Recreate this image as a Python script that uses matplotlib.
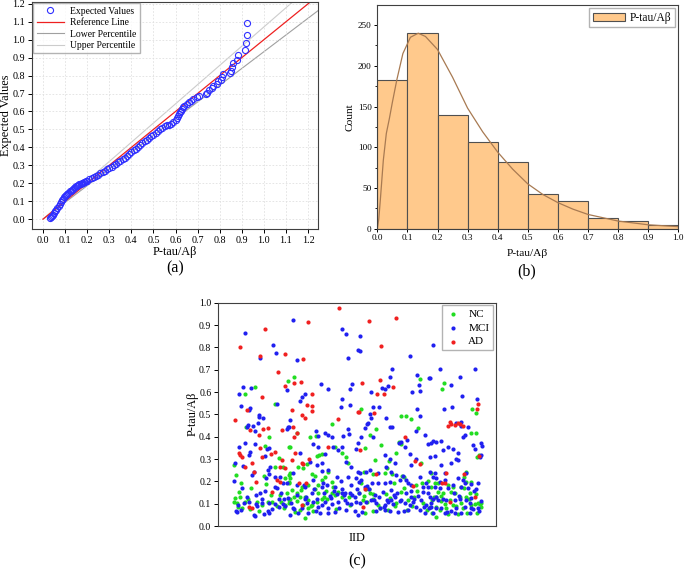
import matplotlib
matplotlib.use("Agg")
import matplotlib.pyplot as plt
import numpy as np

plt.rcParams['font.family'] = ['Liberation Serif', 'DejaVu Serif']
plt.rcParams['axes.linewidth'] = 0.8
plt.rcParams['axes.edgecolor'] = '#404040'

# (a) Q-Q plot: observed P-tau/Abeta vs expected values
qq_obs = [0.030, 0.035, 0.040, 0.045, 0.050, 0.055, 0.060, 0.065, 0.070, 0.075,
          0.080, 0.085, 0.090, 0.095, 0.100, 0.105, 0.110, 0.115, 0.120, 0.125,
          0.130, 0.135, 0.140, 0.145, 0.150, 0.155, 0.160, 0.165, 0.170, 0.175,
          0.180, 0.185, 0.190, 0.195, 0.200, 0.210, 0.220, 0.230, 0.240, 0.250,
          0.260, 0.270, 0.280, 0.290, 0.300, 0.310, 0.320, 0.330, 0.340, 0.350,
          0.360, 0.370, 0.380, 0.390, 0.400, 0.410, 0.420, 0.430, 0.440, 0.450,
          0.460, 0.470, 0.480, 0.490, 0.500, 0.510, 0.520, 0.530, 0.540, 0.550,
          0.560, 0.570, 0.580, 0.590, 0.600, 0.605, 0.610, 0.615, 0.620, 0.625,
          0.630, 0.635, 0.640, 0.650, 0.660, 0.670, 0.680, 0.696, 0.706,
          0.738, 0.744, 0.753, 0.764, 0.771, 0.786, 0.794, 0.804, 0.810, 0.813,
          0.846, 0.849, 0.857, 0.861, 0.880, 0.883, 0.914, 0.919, 0.922, 0.925]
qq_exp = [0.005, 0.010, 0.016, 0.024, 0.033, 0.043, 0.053, 0.064, 0.075, 0.085,
          0.095, 0.104, 0.113, 0.121, 0.128, 0.135, 0.142, 0.148, 0.154, 0.159,
          0.164, 0.169, 0.174, 0.178, 0.182, 0.186, 0.190, 0.193, 0.196, 0.200,
          0.203, 0.206, 0.209, 0.212, 0.215, 0.221, 0.228, 0.234, 0.241, 0.248,
          0.255, 0.262, 0.269, 0.277, 0.285, 0.292, 0.300, 0.308, 0.316, 0.325,
          0.334, 0.343, 0.352, 0.361, 0.373, 0.383, 0.393, 0.403, 0.413, 0.423,
          0.433, 0.443, 0.453, 0.462, 0.471, 0.480, 0.490, 0.500, 0.510, 0.518,
          0.522, 0.524, 0.530, 0.540, 0.555, 0.565, 0.575, 0.585, 0.595, 0.605,
          0.615, 0.623, 0.630, 0.640, 0.650, 0.660, 0.668, 0.679, 0.688,
          0.698, 0.705, 0.720, 0.729, 0.742, 0.753, 0.767, 0.776, 0.794, 0.810,
          0.817, 0.828, 0.850, 0.869, 0.887, 0.915, 0.943, 0.980, 1.027, 1.092]
ref_x = [0.0, 1.25]
upper_slope = 1.071
lower_slope = 0.933

# (b) histogram of P-tau/Abeta and fitted curve
bin_edges = [0.0, 0.1, 0.2, 0.3, 0.4, 0.5, 0.6, 0.7, 0.8, 0.9, 1.0]
counts = [183, 240, 140, 107, 82, 43, 34, 13, 10, 5]
fit_x = [0.0, 0.005, 0.01, 0.02, 0.03, 0.04, 0.05, 0.065, 0.085, 0.11, 0.136,
         0.16, 0.2, 0.25, 0.3, 0.35, 0.4, 0.45, 0.5, 0.55, 0.6, 0.65, 0.7,
         0.8, 0.9, 1.0]
fit_y = [0, 12, 35, 84, 117, 135, 155, 183, 215, 235, 240, 236, 220, 186,
         148, 119, 94, 73, 55, 42, 32, 24, 17.5, 9.4, 4.8, 2.5]

# (c) scatter by group
nc_x = [108, 207, 78, 168, 82, 140, 152, 210, 45, 53, 68, 135, 168, 182, 192, 212, 200, 210,
        45, 48, 65, 55, 70, 80, 95, 115, 130, 148, 160, 175, 186, 200, 210, 215, 205,
        226, 339, 302, 291, 274, 309, 294, 349, 369, 382, 389, 214, 234, 329, 214, 239, 254,
        264, 279, 289, 319, 339, 212, 219, 234, 249, 269, 289, 299, 309, 322, 339, 359, 369,
        214, 227, 244, 259, 269, 279, 294, 309, 324, 349, 212, 229, 244, 254, 269, 284, 259,
        604, 429, 547, 564, 579, 600, 472, 456, 439, 489, 534, 549, 541, 471, 511, 551, 557,
        609, 437, 464, 499, 507, 522, 527, 422, 429, 444, 454, 464, 549, 594, 612, 629, 434,
        447, 464, 514, 569, 581, 614, 441, 464, 479, 509, 529, 567,
        677, 671, 762, 774, 759, 774, 777, 781, 744, 737, 639, 649, 659, 689, 639, 659, 674,
        704, 729, 744, 759, 642, 654, 669, 679, 694, 709, 724, 744, 754, 769, 779, 784, 789,
        634, 654, 664, 684, 704, 729, 734, 759, 641, 654, 689, 719, 747, 777, 789,
        58, 88, 120, 157, 196, 236, 276, 316, 352, 396, 436, 486, 532, 588, 626, 668, 712, 752,
        62, 98, 142, 183, 248, 298, 343, 392, 452, 502, 557, 597, 648, 698, 738, 772]
nc_y = [0.621, 0.651, 0.591, 0.545, 0.445, 0.358, 0.400, 0.355, 0.273, 0.228, 0.194, 0.225,
        0.266, 0.306, 0.266, 0.228, 0.213, 0.198, 0.109, 0.125, 0.131, 0.101, 0.079, 0.109,
        0.075, 0.109, 0.094, 0.107, 0.109, 0.090, 0.109, 0.094, 0.116, 0.213, 0.146,
        0.669, 0.455, 0.318, 0.403, 0.400, 0.321, 0.313, 0.355, 0.325, 0.310, 0.284, 0.355,
        0.415, 0.243, 0.236, 0.266, 0.260, 0.278, 0.233, 0.224, 0.221, 0.198, 0.194, 0.161,
        0.146, 0.173, 0.182, 0.167, 0.182, 0.206, 0.158, 0.146, 0.152, 0.131, 0.119, 0.131,
        0.131, 0.131, 0.116, 0.094, 0.109, 0.119, 0.119, 0.137, 0.101, 0.064, 0.072, 0.094,
        0.079, 0.069, 0.034,
        0.657, 0.524, 0.493, 0.493, 0.478, 0.440, 0.433, 0.407, 0.348, 0.363, 0.325, 0.367,
        0.374, 0.296, 0.291, 0.224, 0.218, 0.281, 0.243, 0.234, 0.236, 0.258, 0.233, 0.194,
        0.146, 0.192, 0.164, 0.146, 0.143, 0.151, 0.183, 0.194, 0.200, 0.116, 0.109, 0.119,
        0.124, 0.116, 0.090, 0.101, 0.057, 0.069, 0.094, 0.072, 0.090, 0.072,
        0.640, 0.612, 0.522, 0.504, 0.415, 0.418, 0.310, 0.318, 0.243, 0.221, 0.236, 0.194,
        0.194, 0.184, 0.176, 0.152, 0.149, 0.176, 0.176, 0.198, 0.198, 0.116, 0.131, 0.134,
        0.098, 0.116, 0.146, 0.131, 0.131, 0.146, 0.098, 0.101, 0.098, 0.104, 0.087, 0.087,
        0.072, 0.079, 0.094, 0.101, 0.079, 0.094, 0.057, 0.042, 0.054, 0.052, 0.057, 0.057,
        0.087,
        0.085, 0.122, 0.068, 0.138, 0.082, 0.112, 0.090, 0.128, 0.078, 0.093, 0.135, 0.082,
        0.104, 0.128, 0.071, 0.112, 0.088, 0.121,
        0.152, 0.171, 0.188, 0.139, 0.162, 0.148, 0.176, 0.128, 0.165, 0.142, 0.172, 0.158,
        0.131, 0.152, 0.168, 0.142]

mci_x = [80, 163, 123, 172, 73, 62, 96, 205, 68, 93, 90, 120, 122, 133, 175, 208, 205, 88,
         86, 103, 108, 118, 60, 80, 108, 145, 152, 95, 90, 140, 155, 147, 150, 168, 105, 100,
         73, 50, 143, 185, 192, 204, 170, 175, 188, 123, 112, 130, 58, 75, 90, 112, 130, 150,
         170, 192, 208, 54, 67, 105, 110, 135, 150, 160, 180, 200, 213, 45,
         222, 369, 384, 418, 389, 236, 307, 329, 396, 401, 259, 249, 244, 371, 366, 396, 214,
         212, 389, 392, 374, 339, 319, 292, 299, 329, 282, 299, 419, 414, 244, 274, 319, 344,
         372, 359, 384, 309, 296, 309, 329, 354, 367, 389, 399, 419, 223, 234, 259, 284, 287,
         309, 324, 349, 369, 399, 414, 421, 234, 259, 279, 296, 317, 333, 345, 354, 371, 381,
         394, 409, 417, 217, 224, 251, 264, 284, 297, 309, 319, 329, 341, 359, 379, 387, 399,
         414, 304, 329, 349, 384, 409, 419, 269, 237,
         426, 424, 574, 522, 514, 597, 632, 459, 491, 499, 509, 581, 602, 604, 464, 481, 454,
         459, 449, 597, 605, 447, 504, 514, 521, 441, 429, 464, 594, 619, 629, 567, 541, 549,
         499, 559, 531, 574, 577, 594, 514, 504, 456, 479, 444, 424, 519, 534, 546, 554, 564,
         429, 439, 462, 479, 499, 514, 569, 579, 604, 614, 624, 422, 451, 469, 481, 494, 507,
         519, 531, 537, 549, 564, 579, 599, 614, 629, 424, 444, 459, 474, 484, 499, 509, 524,
         544, 559, 574, 584, 594, 609, 624, 474, 499, 514, 539, 569, 604, 619, 631,
         644, 664, 769, 634, 699, 724, 732, 777, 677, 701, 714, 727, 729, 739, 734, 749, 644,
         654, 639, 667, 689, 704, 719, 764, 787, 792, 769, 787, 674, 649, 634, 714, 719, 699,
         669, 649, 679, 744, 784, 634, 644, 654, 664, 679, 719, 734, 739, 759, 779, 629, 649,
         664, 689, 704, 729, 749, 772, 634, 644, 659, 674, 684, 709, 724, 744, 759, 639, 654,
         669, 699, 714, 739, 754, 764, 779, 789, 644, 679, 709, 729, 754,
         52, 84, 116, 148, 182, 226, 262, 292, 336, 362, 402, 432, 468, 496, 526, 556, 586,
         616, 652, 686, 722, 758, 782, 71, 138, 197, 256, 312, 377, 447, 517, 577, 637, 707,
         767]
mci_y = [0.863, 0.810, 0.751, 0.773, 0.621, 0.591, 0.616, 0.607, 0.537, 0.528, 0.519, 0.497,
         0.490, 0.482, 0.546, 0.445, 0.433, 0.452, 0.442, 0.448, 0.427, 0.460, 0.355, 0.373,
         0.367, 0.343, 0.348, 0.333, 0.318, 0.315, 0.264, 0.249, 0.234, 0.221, 0.243, 0.228,
         0.269, 0.281, 0.213, 0.221, 0.194, 0.194, 0.176, 0.169, 0.149, 0.149, 0.140, 0.122,
         0.094, 0.101, 0.109, 0.098, 0.104, 0.101, 0.098, 0.097, 0.124, 0.061, 0.072, 0.049,
         0.045, 0.054, 0.057, 0.076, 0.087, 0.090, 0.049, 0.200,
         0.922, 0.884, 0.860, 0.788, 0.754, 0.743, 0.634, 0.612, 0.612, 0.634, 0.591, 0.579,
         0.561, 0.569, 0.534, 0.540, 0.475, 0.445, 0.433, 0.410, 0.403, 0.400, 0.415, 0.427,
         0.403, 0.407, 0.367, 0.355, 0.373, 0.346, 0.325, 0.285, 0.321, 0.355, 0.354, 0.340,
         0.288, 0.284, 0.273, 0.248, 0.251, 0.221, 0.200, 0.221, 0.266, 0.242, 0.236, 0.182,
         0.173, 0.206, 0.167, 0.173, 0.182, 0.176, 0.166, 0.183, 0.213, 0.198, 0.137, 0.119,
         0.146, 0.119, 0.149, 0.134, 0.158, 0.142, 0.146, 0.146, 0.149, 0.131, 0.164, 0.101,
         0.079, 0.079, 0.101, 0.109, 0.087, 0.094, 0.109, 0.079, 0.098, 0.109, 0.116, 0.101,
         0.098, 0.109, 0.057, 0.057, 0.064, 0.072, 0.069, 0.049, 0.060, 0.057,
         0.851, 0.784, 0.761, 0.704, 0.669, 0.678, 0.661, 0.599, 0.619, 0.613, 0.629, 0.601,
         0.630, 0.606, 0.534, 0.531, 0.501, 0.482, 0.462, 0.522, 0.493, 0.457, 0.484, 0.445,
         0.445, 0.437, 0.400, 0.397, 0.425, 0.407, 0.366, 0.385, 0.370, 0.378, 0.319, 0.354,
         0.284, 0.322, 0.272, 0.300, 0.300, 0.266, 0.251, 0.236, 0.243, 0.236, 0.243, 0.228,
         0.206, 0.224, 0.206, 0.206, 0.176, 0.191, 0.194, 0.194, 0.198, 0.191, 0.183, 0.221,
         0.176, 0.191, 0.146, 0.164, 0.139, 0.131, 0.154, 0.116, 0.116, 0.128, 0.149, 0.116,
         0.146, 0.131, 0.134, 0.154, 0.146, 0.101, 0.109, 0.116, 0.101, 0.079, 0.094, 0.109,
         0.098, 0.113, 0.101, 0.094, 0.109, 0.087, 0.116, 0.094, 0.069, 0.072, 0.069, 0.064,
         0.072, 0.072, 0.057, 0.079,
         0.810, 0.703, 0.701, 0.661, 0.631, 0.669, 0.584, 0.570, 0.522, 0.531, 0.463, 0.467,
         0.449, 0.407, 0.400, 0.445, 0.379, 0.378, 0.370, 0.381, 0.355, 0.343, 0.325, 0.361,
         0.370, 0.358, 0.343, 0.319, 0.340, 0.313, 0.310, 0.300, 0.296, 0.281, 0.273, 0.239,
         0.239, 0.236, 0.310, 0.243, 0.221, 0.213, 0.198, 0.206, 0.213, 0.206, 0.191, 0.188,
         0.191, 0.176, 0.176, 0.169, 0.169, 0.183, 0.176, 0.169, 0.164, 0.131, 0.119, 0.116,
         0.119, 0.116, 0.116, 0.119, 0.116, 0.124, 0.087, 0.079, 0.079, 0.069, 0.079, 0.087,
         0.101, 0.075, 0.079, 0.113, 0.057, 0.057, 0.057, 0.060, 0.057,
         0.068, 0.132, 0.088, 0.066, 0.121, 0.078, 0.131, 0.068, 0.125, 0.082, 0.138, 0.064,
         0.115, 0.086, 0.141, 0.068, 0.122, 0.083, 0.128, 0.064, 0.136, 0.081, 0.068, 0.168,
         0.158, 0.122, 0.185, 0.191, 0.138, 0.178, 0.162, 0.158, 0.105, 0.146, 0.155]

ad_x = [138, 65, 125, 200, 177, 130, 200, 50, 85, 148, 132, 120, 95, 190, 60, 70, 65, 78,
        100, 105, 125, 158, 170, 190, 130, 112, 183, 175, 185, 200, 160, 90, 100,
        362, 267, 254, 226, 246, 279, 264, 281, 281, 219, 259, 249, 223, 225, 234, 329, 359,
        419, 229, 221, 249, 254, 272, 242, 262, 249,
        532, 452, 489, 431, 486, 477, 497, 524, 466, 422, 559, 424, 591, 604, 474, 584, 441,
        434,
        779, 777, 689, 694, 697, 709, 724, 734, 719, 782, 684, 679, 671, 696, 769, 737]
ad_y = [0.884, 0.800, 0.763, 0.769, 0.688, 0.579, 0.628, 0.475, 0.520, 0.437, 0.433, 0.407,
        0.430, 0.430, 0.325, 0.310, 0.318, 0.266, 0.281, 0.243, 0.348, 0.322, 0.333, 0.296,
        0.310, 0.196, 0.199, 0.206, 0.266, 0.258, 0.154, 0.087, 0.080,
        0.976, 0.913, 0.749, 0.642, 0.646, 0.591, 0.540, 0.537, 0.516, 0.519, 0.482, 0.497,
        0.445, 0.400, 0.415, 0.352, 0.480, 0.510, 0.325, 0.296, 0.284, 0.278, 0.300, 0.194,
        0.194, 0.094,
        0.930, 0.919, 0.806, 0.639, 0.654, 0.591, 0.591, 0.621, 0.504, 0.509, 0.397, 0.340,
        0.290, 0.278, 0.233, 0.179, 0.167, 0.087,
        0.546, 0.522, 0.448, 0.467, 0.457, 0.452, 0.457, 0.448, 0.460, 0.315, 0.239, 0.191,
        0.191, 0.109, 0.131, 0.233]

W, H = 685, 571
fig = plt.figure(figsize=(W / 100, H / 100), dpi=100)


def box(l, t, r, b):
    return [l / W, 1 - b / H, (r - l) / W, (b - t) / H]


lab_fs = 8.8

# ---------- (a)
ax1 = fig.add_axes(box(32, 2, 318, 229))
ax1.plot(qq_obs, qq_exp, 'o', mfc='none', mec='#3030ff', ms=4.4, mew=0.8,
         label='Expected Values', zorder=3)
rx = np.array(ref_x)
ax1.plot(rx, rx, color='#ee2020', lw=0.9, label='Reference Line', zorder=2)
ax1.plot(rx, rx * lower_slope, color='#a0a0a0', lw=0.8, label='Lower Percentile', zorder=1)
ax1.plot(rx, rx * upper_slope, color='#cccccc', lw=0.8, label='Upper Percentile', zorder=1)
ax1.set_xlim(-0.05, 1.245)
ax1.set_ylim(-0.055, 1.21)
ticks_a = np.arange(0, 1.21, 0.1)
ax1.set_xticks(ticks_a)
ax1.set_yticks(ticks_a)
ax1.set_xticklabels([f'{v:.1f}' for v in ticks_a])
ax1.set_yticklabels([f'{v:.1f}' for v in ticks_a])
ax1.grid(True, color='#e0e0e0', lw=0.6, ls=(0, (2, 2)))
ax1.tick_params(labelsize=7.3, length=3, width=0.7, direction='out', pad=2)
ax1.legend(loc='upper left', fontsize=6.9, frameon=True, fancybox=False,
           edgecolor='#a0a0a0', borderaxespad=0.15, handlelength=2.8,
           labelspacing=0.25, borderpad=0.35, handletextpad=0.7)

# ---------- (b)
ax2 = fig.add_axes(box(377.3, 4.7, 678.3, 228.7))
ax2.bar(bin_edges[:-1], counts, width=np.diff(bin_edges), align='edge',
        color='#ffc98c', edgecolor='#505050', lw=0.8, label='P-tau/Aβ')
ax2.plot(fit_x, fit_y, color='#a87a52', lw=0.9)
ax2.set_xlim(0, 1.0)
ax2.set_ylim(0, 275)
ticks_b = np.arange(0, 1.01, 0.1)
ax2.set_xticks(ticks_b)
ax2.set_xticklabels([f'{v:.1f}' for v in ticks_b])
ax2.set_yticks([0, 50, 100, 150, 200, 250])
ax2.set_yticks(np.arange(25, 275, 50), minor=True)
ax2.tick_params(labelsize=6.6, length=2.5, width=0.7, direction='out', pad=1.5)
ax2.tick_params(which='minor', length=1.5, width=0.6)
ax2.legend(loc='upper right', fontsize=8.3, frameon=True, fancybox=False,
           edgecolor='#a0a0a0', borderaxespad=0.3, handlelength=2.8,
           borderpad=0.3, handletextpad=0.4)

# ---------- (c)
ax3 = fig.add_axes(box(218.3, 302.7, 496, 526))
ax3.scatter(nc_x, nc_y, s=9, color='#22dd22', lw=0, label='NC')
ax3.scatter(mci_x, mci_y, s=9, color='#2020f0', lw=0, label='MCI')
ax3.scatter(ad_x, ad_y, s=9, color='#f02020', lw=0, label='AD')
ax3.set_xlim(-1, 833)
ax3.set_ylim(0, 1.0)
ax3.set_xticks([])
ticks_c = np.arange(0, 1.01, 0.1)
ax3.set_yticks(ticks_c)
ax3.set_yticklabels([f'{v:.1f}' for v in ticks_c])
ax3.tick_params(labelsize=7, length=3, width=0.7, direction='out', pad=2)
ax3.legend(loc='upper right', fontsize=8, frameon=True, fancybox=False,
           edgecolor='#a0a0a0', borderaxespad=0.25, handlelength=1.2,
           labelspacing=0.35, borderpad=0.35, handletextpad=0.8)

# labels placed in pixel coordinates
def ftext(x, y, s, **kw):
    fig.text(x / W, 1 - y / H, s, ha='center', va='center', **kw)


ftext(175, 252, 'P-tau/Aβ', fontsize=lab_fs)
ftext(175, 268, '(a)', fontsize=11.5)
ftext(6, 115, 'Expected Values', fontsize=lab_fs, rotation=90)
ftext(527, 253, 'P-tau/Aβ', fontsize=8.2)
ftext(527, 271, '(b)', fontsize=11.5)
ftext(350, 117, 'Count', fontsize=8.2, rotation=90)
ftext(357, 538, 'IID', fontsize=lab_fs)
ftext(357, 561, '(c)', fontsize=11.5)
ftext(193, 414, 'P-tau/Aβ', fontsize=lab_fs, rotation=90)

fig.savefig('out.png', dpi=100)
